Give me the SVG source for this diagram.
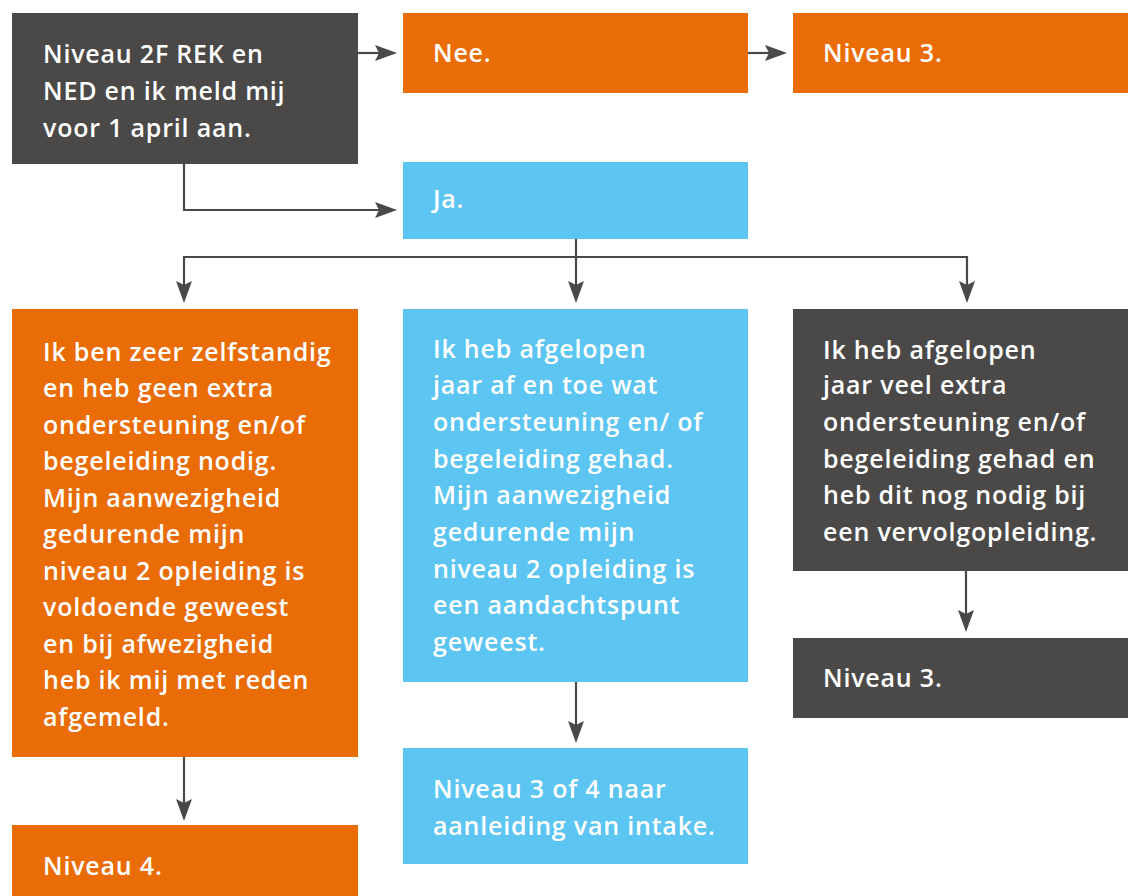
<svg xmlns="http://www.w3.org/2000/svg" width="1128" height="896" viewBox="0 0 1128 896">
<defs>
<style>
.or{fill:#EA6C06}
.bl{fill:#5CC5F1}
.dk{fill:#4A4947}
.t{fill:#ffffff;font-family:"Open Sans","Noto Sans",sans-serif;font-weight:600;font-size:25px;letter-spacing:0.8px}
.c{fill:none;stroke:#4A4947;stroke-width:2.2}
.h{fill:#4A4947}
</style>
</defs>
<rect width="1128" height="896" fill="#ffffff"/>
<g id="start">
<rect class="dk" x="12" y="13" width="346" height="151"/>
<text class="t" x="43" y="63">Niveau 2F REK en</text>
<text class="t" x="43" y="100">NED en ik meld mij</text>
<text class="t" x="43" y="137">voor 1 april aan.</text>
</g>
<g id="nee">
<rect class="or" x="403" y="13" width="345" height="80"/>
<text class="t" x="433" y="62">Nee.</text>
</g>
<g id="nee-niveau3">
<rect class="or" x="793" y="13" width="335" height="80"/>
<text class="t" x="823" y="62">Niveau 3.</text>
</g>
<g id="ja">
<rect class="bl" x="403" y="162" width="345" height="77"/>
<text class="t" x="433" y="208">Ja.</text>
</g>
<g id="zelfstandig">
<rect class="or" x="12" y="309" width="346" height="448"/>
<text class="t" x="43" y="361">Ik ben zeer zelfstandig</text>
<text class="t" x="43" y="397">en heb geen extra</text>
<text class="t" x="43" y="434">ondersteuning en/of</text>
<text class="t" x="43" y="470">begeleiding nodig.</text>
<text class="t" x="43" y="507">Mijn aanwezigheid</text>
<text class="t" x="43" y="543">gedurende mijn</text>
<text class="t" x="43" y="580">niveau 2 opleiding is</text>
<text class="t" x="43" y="616">voldoende geweest</text>
<text class="t" x="43" y="653">en bij afwezigheid</text>
<text class="t" x="43" y="689">heb ik mij met reden</text>
<text class="t" x="43" y="726">afgemeld.</text>
</g>
<g id="afentoe">
<rect class="bl" x="403" y="309" width="345" height="373"/>
<text class="t" x="433" y="358">Ik heb afgelopen</text>
<text class="t" x="433" y="394">jaar af en toe wat</text>
<text class="t" x="433" y="431">ondersteuning en/ of</text>
<text class="t" x="433" y="468">begeleiding gehad.</text>
<text class="t" x="433" y="504">Mijn aanwezigheid</text>
<text class="t" x="433" y="541">gedurende mijn</text>
<text class="t" x="433" y="578">niveau 2 opleiding is</text>
<text class="t" x="433" y="614">een aandachtspunt</text>
<text class="t" x="433" y="651">geweest.</text>
</g>
<g id="veel">
<rect class="dk" x="793" y="309" width="335" height="262"/>
<text class="t" x="823" y="359">Ik heb afgelopen</text>
<text class="t" x="823" y="394">jaar veel extra</text>
<text class="t" x="823" y="431">ondersteuning en/of</text>
<text class="t" x="823" y="468">begeleiding gehad en</text>
<text class="t" x="823" y="504">heb dit nog nodig bij</text>
<text class="t" x="823" y="541">een vervolgopleiding.</text>
</g>
<g id="niveau4">
<rect class="or" x="12" y="825" width="346" height="71"/>
<text class="t" x="43" y="875">Niveau 4.</text>
</g>
<g id="niveau34">
<rect class="bl" x="403" y="748" width="345" height="116"/>
<text class="t" x="433" y="798">Niveau 3 of 4 naar</text>
<text class="t" x="433" y="835">aanleiding van intake.</text>
</g>
<g id="veel-niveau3">
<rect class="dk" x="793" y="638" width="335" height="80"/>
<text class="t" x="823" y="687">Niveau 3.</text>
</g>
<g id="connectors">
<path class="c" d="M358 53H380"/>
<path class="h" d="M397 53L375 45L379 53L375 61Z"/>
<path class="c" d="M748 53H770"/>
<path class="h" d="M787 53L765 45L769 53L765 61Z"/>
<path class="c" d="M184 164V210H380"/>
<path class="h" d="M397 210L375 202L379 210L375 218Z"/>
<path class="c" d="M576 239V285"/>
<path class="c" d="M184 285V257H967V285"/>
<path class="h" d="M184 303L176 281L184 285L192 281Z"/>
<path class="h" d="M576 303L568 281L576 285L584 281Z"/>
<path class="h" d="M967 303L959 281L967 285L975 281Z"/>
<path class="c" d="M184 757V803"/>
<path class="h" d="M184 821L176 799L184 803L192 799Z"/>
<path class="c" d="M576 682V725"/>
<path class="h" d="M576 743L568 721L576 725L584 721Z"/>
<path class="c" d="M966 571V614"/>
<path class="h" d="M966 632L958 610L966 614L974 610Z"/>
</g>
</svg>
